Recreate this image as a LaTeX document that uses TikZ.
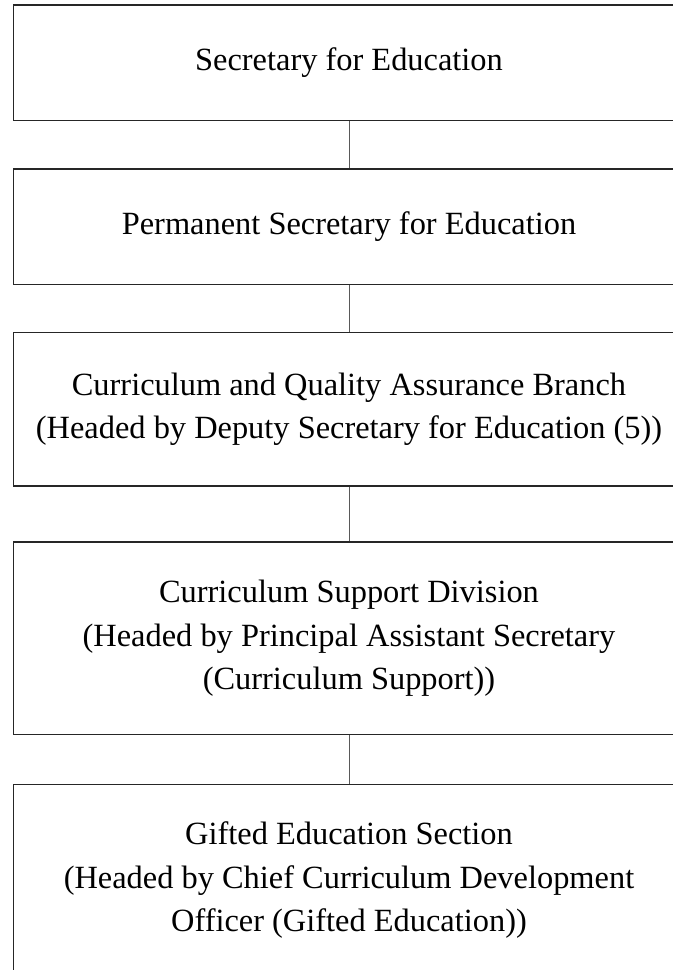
\documentclass[tikz,border=0pt]{standalone}
\usepackage{fontspec}
\setmainfont{Liberation Serif}
\begin{document}
\begin{tikzpicture}[x=1bp, y=-1bp,
  unit/.style={rectangle, draw=black!85, line width=1.2bp, minimum width=671bp, inner sep=0pt, align=center, font=\fontsize{32.4bp}{43.5bp}\selectfont},
  link/.style={draw=black!65, line width=0.9bp}]
\useasboundingbox (0,0) rectangle (673,970);
\node[unit, minimum height=115.5bp] (org0) at (349,62.75){Secretary for Education};
\node[unit, minimum height=115.3bp] (org1) at (349,226.7){Permanent Secretary for Education};
\draw[link](org0) -- (org1);
\node[unit, minimum height=153.3bp] (org2) at (349,409.4){Curriculum and Quality Assurance Branch\\(Headed by Deputy Secretary for Education (5))};
\draw[link](org1) -- (org2);
\node[unit, minimum height=192.5bp] (org3) at (349,638.2){Curriculum Support Division\\(Headed by Principal Assistant Secretary\\(Curriculum Support))};
\draw[link](org2) -- (org3);
\node[unit, minimum height=192.5bp] (org4) at (349,880.5){Gifted Education Section\\(Headed by Chief Curriculum Development\\Officer (Gifted Education))};
\draw[link](org3) -- (org4);

\end{tikzpicture}
\end{document}
